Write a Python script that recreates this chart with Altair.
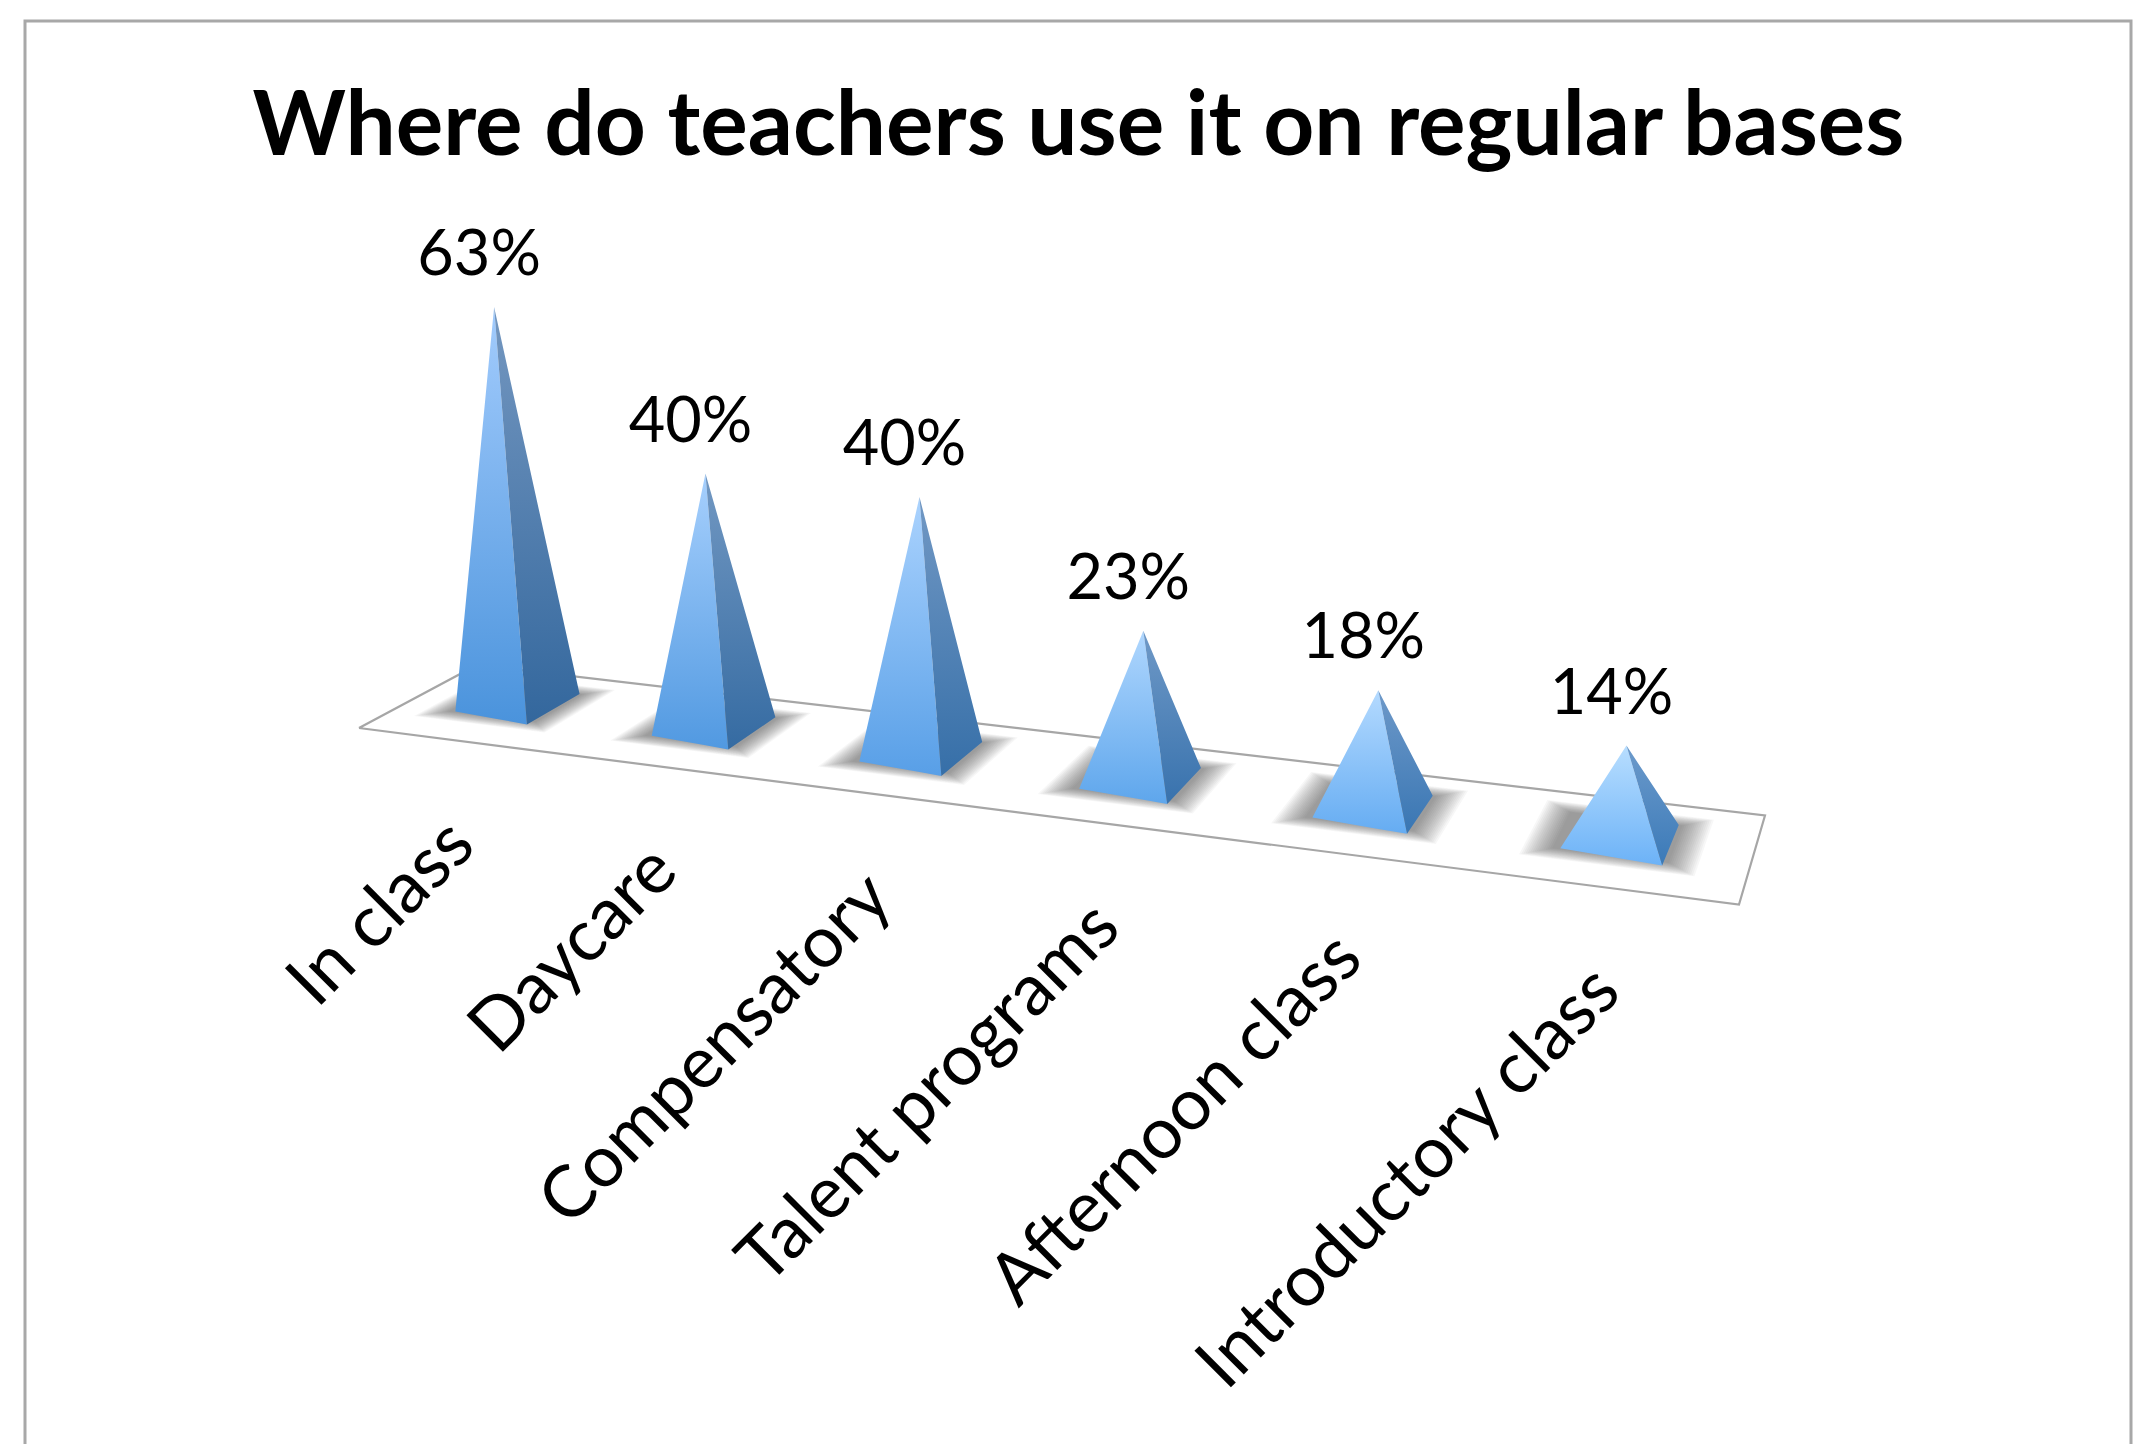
import altair as alt
import numpy as np
import pandas as pd

categories = ["In class", "Daycare", "Compensatory", "Talent programs", "Afternoon class", "Introductory class"]
values = [63, 40, 40, 23, 18, 14]
title_text = "Where do teachers use it on regular bases"

FONT = "Lato"
W, H = 2133, 1436

# ---- simple 3D projection of the floor plane (u along categories, v into depth)
src = [(0, 0), (6, 0), (6, 1), (0, 1)]
dst = [(359, 728), (1739, 904.5), (1765, 815.5), (477, 665)]
A, b = [], []
for (u, v), (px, py) in zip(src, dst):
    A.append([u, v, 1, 0, 0, 0, -u * px, -v * px]); b.append(px)
    A.append([0, 0, 0, u, v, 1, -u * py, -v * py]); b.append(py)
h = np.linalg.solve(np.array(A, float), np.array(b, float))


def floor(u, v):
    d = h[6] * u + h[7] * v + 1
    return ((h[0] * u + h[1] * v + h[2]) / d, (h[3] * u + h[4] * v + h[5]) / d)


def polygon_rows(pts, pid):
    """Convex polygon -> x / upper / lower rows for an area mark."""
    pts = list(pts)
    xs = sorted(set(round(p[0], 3) for p in pts))
    n = len(pts)
    rows = []
    for x in xs:
        ys = []
        for k in range(n):
            (x0, y0), (x1, y1) = pts[k], pts[(k + 1) % n]
            lo, hi = min(x0, x1), max(x0, x1)
            if lo - 1e-3 <= x <= hi + 1e-3:
                if abs(x1 - x0) < 1e-6:
                    ys += [y0, y1]
                else:
                    ys.append(y0 + (y1 - y0) * (x - x0) / (x1 - x0))
        rows.append({"x": x, "y": min(ys), "y2": max(ys), "id": pid})
    return rows


def hex2rgb(c):
    return np.array([int(c[i:i + 2], 16) for i in (1, 3, 5)], float)


def mix(c1, c2, t):
    r = hex2rgb(c1) * (1 - t) + hex2rgb(c2) * t
    return "#%02x%02x%02x" % tuple(int(round(v)) for v in r)


X = alt.X("x:Q", scale=alt.Scale(domain=[8, 8 + W], nice=False, zero=False), axis=None)
Y = alt.Y("y:Q", scale=alt.Scale(domain=[8, 8 + H], reverse=True, nice=False, zero=False), axis=None)

HALF_U = 0.195
V0, V1 = 0.34, 0.77
SHIFT = 0.475

layers = []

# outer frame, running off the bottom of the page
frame = pd.DataFrame({"x": [25, 25, 2131, 2131], "y": [1444, 21, 21, 1444], "o": [0, 1, 2, 3]})
layers.append(alt.Chart(frame).mark_line(color="#a8a8a8", strokeWidth=3, clip=True).encode(X, Y, order="o:Q"))

# floor outline
fl = pd.DataFrame([{"x": p[0], "y": p[1], "o": k} for k, p in enumerate(dst + [dst[0]])])
layers.append(alt.Chart(fl).mark_line(color="#a6a6a6", strokeWidth=2.2).encode(X, Y, order="o:Q"))

# soft shadows: nested footprints
shadow_rows = []
for i in range(len(values)):
    c = i + SHIFT
    for k, e in enumerate(np.linspace(0.0, 0.17, 16)):
        ue, ve = e * 0.65, e * 0.65
        quad = [floor(c - HALF_U - ue - 0.03, V0 - ve), floor(c + HALF_U + ue + 0.03, V0 - ve),
                floor(c + HALF_U + ue + 0.03, V1 + ve), floor(c - HALF_U - ue - 0.03, V1 + ve)]
        shadow_rows += polygon_rows(quad, f"s{i}-{k}")
layers.append(alt.Chart(pd.DataFrame(shadow_rows)).mark_area(color="#444444", opacity=0.042, orient="vertical")
              .encode(X, Y, alt.Y2("y2:Q"), detail="id:N"))

label_rows, cat_rows = [], []
for i, val in enumerate(values):
    c = i + SHIFT
    FL = floor(c - HALF_U, V0 + 0.01)
    FR = floor(c + HALF_U + 0.01, V0 - 0.04)
    RB = floor(c + HALF_U + 0.015, V1)
    cx = (FL[0] + RB[0]) / 2
    cy = (FL[1] + RB[1]) / 2
    height = val * (6.28 + 0.045 * i)
    apex = (cx + height * (-0.059 + 0.027 * i), cy - height)
    t = i / 5
    front = alt.Gradient(gradient="linear", x1=0, x2=0, y1=0, y2=1, stops=[
        alt.GradientStop(offset=0, color=mix("#a3ccfd", "#b8deff", t)),
        alt.GradientStop(offset=1, color=mix("#4a93dc", "#6cb2f7", t))])
    side = alt.Gradient(gradient="linear", x1=0, x2=0, y1=0, y2=1, stops=[
        alt.GradientStop(offset=0, color=mix("#7497c0", "#6c9acb", t)),
        alt.GradientStop(offset=1, color=mix("#33679d", "#3b7ab8", t))])
    layers.append(alt.Chart(pd.DataFrame(polygon_rows([apex, FL, FR], f"f{i}")))
                  .mark_area(color=front, orient="vertical").encode(X, Y, alt.Y2("y2:Q")))
    layers.append(alt.Chart(pd.DataFrame(polygon_rows([apex, FR, RB], f"r{i}")))
                  .mark_area(color=side, orient="vertical").encode(X, Y, alt.Y2("y2:Q")))
    label_rows.append({"x": apex[0] - 15, "y": apex[1] - 51, "t": f"{val}%"})
    tick = floor(c, 0)
    cat_rows.append({"x": tick[0] + 11, "y": tick[1] + 93, "t": categories[i]})

layers.append(alt.Chart(pd.DataFrame(label_rows)).mark_text(font=FONT, fontSize=63, color="#000000", align="center", baseline="middle")
              .encode(X, Y, text="t:N"))
layers.append(alt.Chart(pd.DataFrame(cat_rows)).mark_text(font=FONT, fontSize=72, color="#000000", align="right", baseline="middle", angle=315)
              .encode(X, Y, text="t:N"))

chart = alt.layer(*layers).properties(
    width=W, height=H,
    padding=0,
    background="#ffffff",
    autosize=alt.AutoSizeParams(type="none"),
    title=alt.TitleParams(text=title_text, font=FONT, fontSize=89, fontWeight="bold", color="#000000",
                          anchor="middle", frame="group", baseline="alphabetic", offset=0, dy=236, dx=4),
).configure_view(stroke=None, strokeWidth=0)

chart.save("out.html", embed_options={"renderer": "svg", "actions": False})
